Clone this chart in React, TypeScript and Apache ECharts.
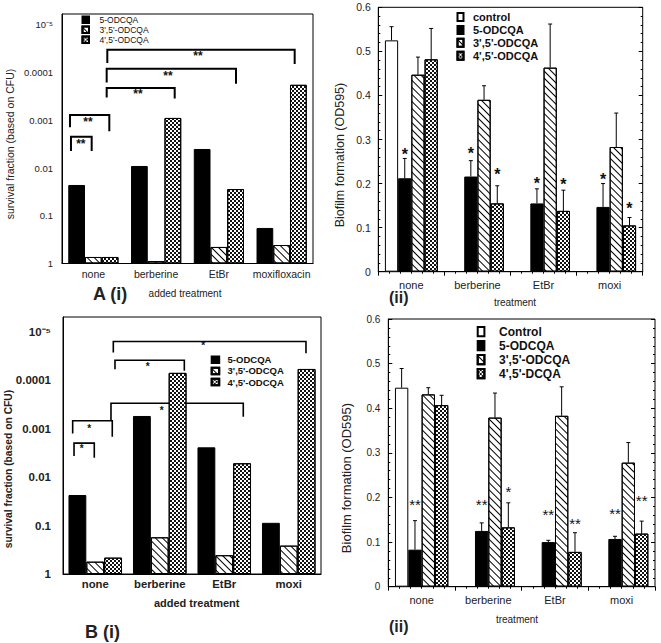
import React, { useEffect, useRef } from 'react';
import * as echarts from 'echarts';

// ---------- data ----------
const categoriesA1 = ['none', 'berberine', 'EtBr', 'moxifloxacin'];
const categoriesOther = ['none', 'berberine', 'EtBr', 'moxi'];

const S5 = '5-ODCQA';
const S35 = "3',5'-ODCQA";
const S45 = "4',5'-ODCQA";
const S45B = "4',5'-DCQA";

// A (i) survival fraction (log scale)
const survA_5 = [0.0226, 0.00904, 0.00398, 0.18];
const survA_35 = [0.73, 0.89, 0.45, 0.41];
const survA_45 = [0.73, 0.00089, 0.0275, 0.00018];
// B (i) survival fraction
const survB_5 = [0.0235, 0.00055, 0.00244, 0.088];
const survB_35 = [0.557, 0.175, 0.41, 0.26];
const survB_45 = [0.46, 0.000071, 0.0052, 0.000059];

// A (ii) biofilm (OD595): values, error tops, stars
const bioA_ctrl = [0.525, null, null, null];
const bioA_5 = [0.212, 0.216, 0.155, 0.147];
const bioA_35 = [0.447, 0.39, 0.463, 0.283];
const bioA_45 = [0.482, 0.155, 0.138, 0.105];
const errA_ctrl = [0.556, null, null, null];
const errA_5 = [0.257, 0.252, 0.188, 0.2];
const errA_35 = [0.487, 0.422, 0.562, 0.36];
const errA_45 = [0.552, 0.195, 0.185, 0.123];
const starA_5 = [0.272, 0.275, 0.207, 0.216];
const starA_45 = [null, 0.228, 0.205, 0.15];

// B (ii) biofilm
const bioB_ctrl = [0.446, null, null, null];
const bioB_5 = [0.083, 0.125, 0.1, 0.107];
const bioB_35 = [0.431, 0.379, 0.383, 0.278];
const bioB_45 = [0.407, 0.133, 0.078, 0.119];
const errB_ctrl = [0.489, null, null, null];
const errB_5 = [0.148, 0.143, 0.104, 0.113];
const errB_35 = [0.446, 0.434, 0.448, 0.323];
const errB_45 = [0.429, 0.188, 0.121, 0.147];
const starB_5 = [0.19, 0.19, 0.168, 0.17];
const starB_45 = [null, 0.22, 0.148, 0.2];
const starTextB_45 = ['', '*', '**', '**'];

// significance brackets: x in category units (0 = first category centre), y in survival fraction
const bracketsA = [
  { x1: -0.357, x2: -0.027, top: 0.0022, yl: 0.0044, yr: 0.0044, sx: -0.2, sy: 0.0029, t: '**' },
  { x1: -0.373, x2: 0.254, top: 0.00077, yl: 0.0014, yr: 0.0017, sx: -0.086, sy: 0.00098, t: '**' },
  { x1: 0.212, x2: 1.296, top: 0.00021, yl: 0.00033, yr: 0.00035, sx: 0.711, sy: 0.00026, t: '**' },
  { x1: 0.212, x2: 2.273, top: 0.000083, yl: 0.00016, yr: 0.00017, sx: 1.189, sy: 0.000107, t: '**' },
  { x1: 0.222, x2: 3.208, top: 0.000033, yl: 0.000063, yr: 0.000066, sx: 1.667, sy: 0.000041, t: '**' },
];
const bracketsB = [
  { x1: -0.329, x2: -0.015, top: 0.002, yl: 0.0037, yr: 0.004, sx: -0.21, sy: 0.0024, t: '*' },
  { x1: -0.35, x2: 0.264, top: 0.00069, yl: 0.00126, yr: 0.00148, sx: -0.092, sy: 0.00092, t: '*' },
  { x1: 0.244, x2: 2.295, top: 0.0003, yl: 0.00067, yr: 0.00057, sx: 1.03, sy: 0.00038, t: '*' },
  { x1: 0.306, x2: 1.381, top: 0.000039, yl: 0.00006, yr: 0.000064, sx: 0.813, sy: 0.000047, t: '*' },
  { x1: 0.28, x2: 3.267, top: 0.000016, yl: 0.000027, yr: 0.000028, sx: 1.675, sy: 0.000018, t: '*' },
];

// ---------- styles ----------
const FF = '"Liberation Sans", Arial, Helvetica, sans-serif';
const solidStyle = { color: '#000', borderColor: '#000', borderWidth: 1 };
const whiteStyle = { color: '#fff', borderColor: '#000', borderWidth: 1 };
const hatchStyle = {
  color: '#fff', borderColor: '#000', borderWidth: 1,
  decal: { symbol: 'rect', symbolSize: 1, color: '#000', dashArrayX: [1, 0], dashArrayY: [1, 3.6], rotation: Math.PI / 4 },
};
const dotStyle = {
  color: '#fff', borderColor: '#000', borderWidth: 1,
  decal: { symbol: 'rect', symbolSize: 1, color: '#111', dashArrayX: [[1.5, 1.5], [0, 1.5, 1.5, 0]], dashArrayY: [1.5, 0], rotation: 0 },
};

const logFormatter = (v: number) => {
  const e = Math.log10(v);
  const r = Math.round(e);
  if (Math.abs(e - r) > 1e-6) return '';
  if (r === 0) return '1';
  if (r === -5) return '10⁻⁵';
  return v.toFixed(-r);
};

function bracketRender(list: any[], lineWidth: number, font: string, dy: number) {
  return (params: any, api: any) => {
    const b = list[params.dataIndex];
    const x0 = api.coord([0, 1])[0];
    const band = api.coord([1, 1])[0] - x0;
    const X = (u: number) => x0 + u * band;
    const Y = (v: number) => api.coord([0, v])[1];
    return {
      type: 'group',
      children: [
        {
          type: 'polyline',
          shape: { points: [[X(b.x1), Y(b.yl)], [X(b.x1), Y(b.top)], [X(b.x2), Y(b.top)], [X(b.x2), Y(b.yr)]] },
          style: { stroke: '#000', lineWidth, fill: null },
        },
        {
          type: 'text', x: X(b.sx), y: Y(b.sy) + dy,
          style: { text: b.t, font, fill: '#111', align: 'center', verticalAlign: 'middle' },
        },
      ],
    };
  };
}

type ErrItem = { cat: number; k: number; v: number; top: number; sy: number | null; st: string };
function buildErr(vals: (number | null)[][], tops: (number | null)[][], stars: (number | null)[][], starTexts: string[][]): ErrItem[] {
  const out: ErrItem[] = [];
  vals.forEach((arr, k) => arr.forEach((v, i) => {
    if (v == null) return;
    out.push({ cat: i, k, v, top: tops[k][i] as number, sy: stars[k] ? stars[k][i] : null, st: starTexts[k] ? starTexts[k][i] : '' });
  }));
  return out;
}

function errRender(items: ErrItem[], nBars: number, gapRatio: number, font: string, dy: number) {
  return (params: any, api: any) => {
    const it = items[params.dataIndex];
    const c = api.coord([it.cat, 0]);
    const band = api.coord([1, 0])[0] - api.coord([0, 0])[0];
    const gw = band * (1 - gapRatio);
    const bw = gw / nBars;
    const cx = c[0] - gw / 2 + (it.k + 0.5) * bw;
    const y0 = api.coord([it.cat, it.v])[1];
    const y1 = api.coord([it.cat, it.top])[1];
    const children: any[] = [
      { type: 'line', shape: { x1: cx, y1: y0, x2: cx, y2: y1 }, style: { stroke: '#000', lineWidth: 1 } },
      { type: 'line', shape: { x1: cx - 2, y1: y1, x2: cx + 2, y2: y1 }, style: { stroke: '#000', lineWidth: 1 } },
    ];
    if (it.sy != null && it.st) {
      children.push({
        type: 'text', x: cx, y: api.coord([it.cat, it.sy])[1] + dy,
        style: { text: it.st, font, fill: '#111', align: 'center', verticalAlign: 'middle' },
      });
    }
    return { type: 'group', children };
  };
}

export default function App() {
  const ref = useRef<HTMLDivElement>(null);
  useEffect(() => {
    if (!ref.current) return;
    const chart = echarts.init(ref.current, undefined, { renderer: 'svg' });

    const errA = buildErr(
      [bioA_ctrl, bioA_5, bioA_35, bioA_45],
      [errA_ctrl, errA_5, errA_35, errA_45],
      [[], starA_5, [], starA_45],
      [[], ['*', '*', '*', '*'], [], ['', '*', '*', '*']],
    );
    const errB = buildErr(
      [bioB_ctrl, bioB_5, bioB_35, bioB_45],
      [errB_ctrl, errB_5, errB_35, errB_45],
      [[], starB_5, [], starB_45],
      [[], ['**', '**', '**', '**'], [], starTextB_45],
    );

    const gridBase = { show: true, borderColor: '#000', borderWidth: 1, backgroundColor: 'transparent' };
    const grids = [
      { left: 62, top: 14, width: 251, height: 249.5, ...gridBase },
      { left: 378.3, top: 7.3, width: 264.4, height: 264.4, ...gridBase },
      { left: 63, top: 317, width: 258, height: 257, ...gridBase },
      { left: 388.3, top: 319, width: 266.7, height: 267.7, ...gridBase },
    ];

    const tickStyle = { inside: true, length: 4, lineStyle: { color: '#000' } };
    const bottomCat = (gridIndex: number, data: string[], fontSize: number, margin: number, bold: boolean) => ({
      type: 'category', gridIndex, data,
      axisLine: { lineStyle: { color: '#000' } },
      axisTick: tickStyle,
      axisLabel: { interval: 0, margin, fontSize, color: '#222', fontFamily: FF, fontWeight: bold ? 'bold' : 'normal' },
      splitLine: { show: false },
    });
    const topCat = (gridIndex: number, data: string[]) => ({
      type: 'category', gridIndex, data, position: 'top',
      axisLine: { show: false }, axisTick: tickStyle, axisLabel: { show: false }, splitLine: { show: false },
    });
    const topVal = (gridIndex: number) => ({
      type: 'value', gridIndex, position: 'top', min: 0, max: 4, interval: 1,
      axisLine: { show: false }, axisTick: tickStyle, axisLabel: { show: false }, splitLine: { show: false },
      minorTick: { show: true, splitNumber: 6, length: 2, lineStyle: { color: '#000' } },
    });
    const logAxis = (gridIndex: number, min: number, right: boolean, fontSize: number, margin: number, bold: boolean) => ({
      type: 'log', logBase: 10, gridIndex, inverse: true, min, max: 1, position: right ? 'right' : 'left',
      axisLine: { show: !right, lineStyle: { color: '#000' } },
      axisTick: tickStyle,
      axisLabel: right ? { show: false } : { formatter: logFormatter, margin, fontSize, color: '#222', fontFamily: FF, fontWeight: bold ? 'bold' : 'normal' },
      splitLine: { show: false },
    });
    const linAxis = (gridIndex: number, right: boolean, fontSize: number, margin: number) => ({
      type: 'value', gridIndex, min: 0, max: 0.6, interval: 0.1, position: right ? 'right' : 'left',
      axisLine: { show: !right, lineStyle: { color: '#000' } },
      axisTick: tickStyle,
      minorTick: { show: true, splitNumber: 5, length: 2, lineStyle: { color: '#000' } },
      axisLabel: right ? { show: false } : { formatter: (v: number) => (v === 0 ? '0' : v.toFixed(1)), margin, fontSize, color: '#222', fontFamily: FF },
      splitLine: { show: false },
    });

    const bar = (name: string, x: number, y: number, data: any[], itemStyle: any, gap: string) => ({
      type: 'bar', name, xAxisIndex: x, yAxisIndex: y, data, itemStyle, barGap: '0%', barCategoryGap: gap,
      emphasis: { disabled: true }, silent: true,
    });

    const legend = (data: string[], left: number, top: number, iw: number, ih: number, fontSize: number, bold: boolean, lh: number, pad: number) => ({
      data, left, top, orient: 'vertical', icon: 'rect', itemWidth: iw, itemHeight: ih, itemGap: 0, padding: 0,
      selectedMode: false,
      textStyle: { fontSize, fontWeight: bold ? 'bold' : 'normal', fontFamily: FF, color: '#111', lineHeight: lh, padding: [0, 0, 0, pad] },
    });

    const txt = (text: string, x: number, y: number, font: string, rot = 0, align = 'center') => ({
      type: 'text', x, y, rotation: rot,
      style: { text, font, fill: '#222', align, verticalAlign: 'middle' },
    });

    const option: any = {
      animation: false,
      backgroundColor: '#fff',
      grid: grids,
      xAxis: [
        bottomCat(0, categoriesA1, 10.5, 5, false),
        bottomCat(1, categoriesOther, 11, 8, false),
        bottomCat(2, categoriesOther, 11.3, 4, true),
        bottomCat(3, categoriesOther, 11, 8, false),
        topCat(0, categoriesA1),
        topVal(1),
        topCat(2, categoriesOther),
        topVal(3),
      ],
      yAxis: [
        logAxis(0, 5.9e-6, false, 9.5, 9, false),
        linAxis(1, false, 10.5, 7.5),
        logAxis(2, 5.0e-6, false, 11.5, 12, true),
        linAxis(3, false, 10, 8),
        logAxis(0, 5.9e-6, true, 9, 0, false),
        linAxis(1, true, 10, 0),
        logAxis(2, 5.0e-6, true, 9, 0, false),
        linAxis(3, true, 10, 0),
      ],
      legend: [
        legend([S5, S35, S45], 81.5, 14.8, 6.5, 6.5, 8.5, false, 10, 5.5),
        legend(['control', S5, S35, S45], 456.5, 10.6, 6, 8, 11, true, 12.9, 4.5),
        legend([S5, S35, S45], 210.7, 354.3, 7.5, 6.5, 9.5, true, 11.1, 3.4),
        legend(['Control', S5, S35, S45B], 476.7, 324.7, 6.7, 9.3, 12, true, 14, 9.7),
      ],
      series: [
        // A (i)
        bar(S5, 0, 0, survA_5, solidStyle, '20%'),
        bar(S35, 0, 0, survA_35, hatchStyle, '20%'),
        bar(S45, 0, 0, survA_45, dotStyle, '20%'),
        {
          type: 'custom', name: 'bracketsA', xAxisIndex: 0, yAxisIndex: 0, silent: true,
          data: bracketsA.map(() => [0, 1]), renderItem: bracketRender(bracketsA, 2, `bold 12px ${FF}`, 2),
        },
        // A (ii)
        bar('control', 1, 1, bioA_ctrl, whiteStyle, '20%'),
        bar(S5, 1, 1, bioA_5, solidStyle, '20%'),
        bar(S35, 1, 1, bioA_35, hatchStyle, '20%'),
        bar(S45, 1, 1, bioA_45, dotStyle, '20%'),
        {
          type: 'custom', name: 'errA', xAxisIndex: 1, yAxisIndex: 1, silent: true,
          data: errA.map((e) => [e.cat, e.top]), renderItem: errRender(errA, 4, 0.2, `bold 16px ${FF}`, 3),
        },
        // B (i)
        bar(S5, 2, 2, survB_5, solidStyle, '17%'),
        bar(S35, 2, 2, survB_35, hatchStyle, '17%'),
        bar(S45, 2, 2, survB_45, dotStyle, '17%'),
        {
          type: 'custom', name: 'bracketsB', xAxisIndex: 2, yAxisIndex: 2, silent: true,
          data: bracketsB.map(() => [0, 1]), renderItem: bracketRender(bracketsB, 1.6, `bold 10px ${FF}`, 2),
        },
        // B (ii)
        bar('Control', 3, 3, bioB_ctrl, whiteStyle, '20%'),
        bar(S5, 3, 3, bioB_5, solidStyle, '20%'),
        bar(S35, 3, 3, bioB_35, hatchStyle, '20%'),
        bar(S45B, 3, 3, bioB_45, dotStyle, '20%'),
        {
          type: 'custom', name: 'errB', xAxisIndex: 3, yAxisIndex: 3, silent: true,
          data: errB.map((e) => [e.cat, e.top]), renderItem: errRender(errB, 4, 0.2, `15px ${FF}`, 3),
        },
      ],
      graphic: [
        txt('survival fraction (based on CFU)', 10, 144, `10.5px ${FF}`, Math.PI / 2),
        txt('added treatment', 185, 293.5, `10px ${FF}`),
        txt('A (i)', 93, 294, `bold 18px ${FF}`, 0, 'left'),
        txt('Biofilm formation (OD595)', 340, 155, `12.5px ${FF}`, Math.PI / 2),
        txt('treatment', 515, 302.5, `10px ${FF}`),
        txt('(ii)', 389, 297, `bold 16px ${FF}`, 0, 'left'),
        txt('survival fraction (based on CFU)', 8, 469, `bold 10.3px ${FF}`, Math.PI / 2),
        txt('added treatment', 196.7, 603.3, `bold 11px ${FF}`),
        txt('B (i)', 85, 631.7, `bold 18px ${FF}`, 0, 'left'),
        txt('Biofilm formation (OD595)', 346.7, 478, `13px ${FF}`, Math.PI / 2),
        txt('treatment', 517, 619.3, `10px ${FF}`),
        txt('(ii)', 389, 626, `bold 16px ${FF}`, 0, 'left'),
      ],
    };
    chart.setOption(option);
    return () => chart.dispose();
  }, []);
  return (
    <div
      ref={ref}
      style={{ position: 'fixed', left: 0, top: 0, width: 661, height: 643, background: '#fff' }}
    />
  );
}
